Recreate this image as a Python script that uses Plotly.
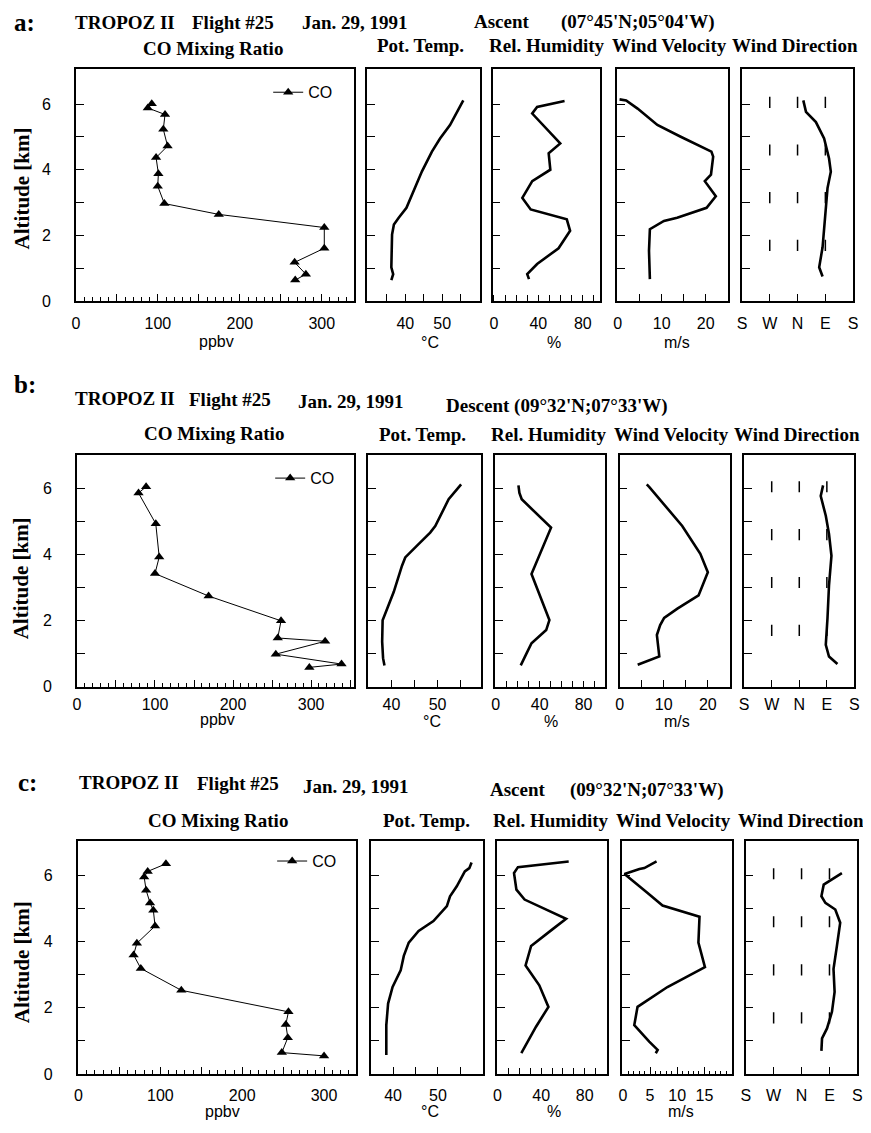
import plotly.graph_objects as go

# The page body has an 8 px margin, so the figure is drawn 8 px in from the window edge.
OFF = 8
W, H = 871, 1133
FW, FH = W - OFF, H - OFF
SERIF = "Liberation Serif"
SANS = "Liberation Sans"

# ---------------- data ----------------
# Row a: Ascent (07°45'N;05°04'W)
a_co_ppbv = [92.5, 87.7, 108.7, 106.6, 111.8, 97.8, 100.6, 99.8, 107.9, 174.3, 303.1, 303.1, 266.9, 280.6, 267.6]
a_co_alt = [6.01, 5.88, 5.68, 5.23, 4.72, 4.37, 3.88, 3.50, 2.97, 2.64, 2.24, 1.61, 1.18, 0.82, 0.64]
a_pt_c = [55.7, 55.2, 52.1, 49.4, 47.2, 44.5, 42.2, 40.3, 38.2, 36.9, 36.4, 36.2, 36.2, 36.7, 36.2]
a_pt_alt = [6.11, 6.01, 5.36, 4.95, 4.55, 3.95, 3.34, 2.84, 2.54, 2.33, 2.03, 1.53, 1.03, 0.82, 0.64]
a_rh = [63.6, 49.3, 38.9, 34.5, 59.7, 49.3, 50.8, 34.5, 25.6, 33.1, 65.6, 68.6, 58.2, 38.9, 30.0, 31.6]
a_rh_alt = [6.09, 5.98, 5.91, 5.71, 4.80, 4.50, 4.00, 3.65, 3.14, 2.79, 2.49, 2.14, 1.61, 1.13, 0.82, 0.67]
a_wv = [0.4, 1.9, 4.5, 9.0, 14.2, 21.3, 21.7, 21.2, 19.8, 22.3, 20.2, 13.5, 10.5, 7.3, 7.1, 7.3]
a_wv_alt = [6.14, 6.11, 5.86, 5.36, 5.01, 4.55, 4.40, 3.85, 3.65, 3.19, 2.84, 2.54, 2.44, 2.19, 1.53, 0.67]
a_wd_deg = [18.6, 27.3, 59.4, 86, 102, 107.7, 97, 91.6, 81, 70, 81]
a_wd_alt = [6.11, 5.76, 5.45, 4.95, 4.34, 3.94, 3.44, 2.74, 1.64, 1.03, 0.75]

# Row b: Descent (09°32'N;07°33'W)
b_co_ppbv = [88.6, 78.9, 101, 105.4, 100, 168.7, 261.5, 257.3, 318, 254.8, 339, 297.8]
b_co_alt = [6.05, 5.86, 4.93, 3.92, 3.42, 2.74, 1.99, 1.47, 1.37, 0.98, 0.68, 0.58]
b_pt_c = [55.1, 54.2, 52.4, 49.5, 48.4, 45.5, 43.0, 42.3, 40.5, 39.1, 38.1, 38.0, 38.2, 38.5]
b_pt_alt = [6.12, 5.97, 5.67, 4.86, 4.66, 4.26, 3.91, 3.66, 2.86, 2.36, 2.01, 1.36, 0.86, 0.64]
b_rh = [20.7, 21.6, 23.7, 50.4, 32.6, 48.9, 46.0, 32.6, 28.2, 22.8]
b_rh_alt = [6.09, 5.86, 5.67, 4.81, 3.41, 2.01, 1.71, 1.31, 1.01, 0.64]
b_wv = [6.15, 6.75, 14.2, 18.3, 20.0, 17.9, 13.1, 10.1, 9.2, 8.45, 9.0, 4.1]
b_wv_alt = [6.12, 6.04, 4.86, 4.02, 3.46, 2.76, 2.36, 2.08, 1.86, 1.56, 0.91, 0.66]
b_wd_deg = [77.7, 70, 86.5, 97, 105, 97, 92, 86.5, 97, 124.5]
b_wd_alt = [6.09, 5.77, 5.17, 4.62, 3.96, 3.06, 2.06, 1.26, 0.91, 0.68]

# Row c: Ascent (09°32'N;07°33'W)
c_co_ppbv = [106.8, 84.5, 80.2, 82.6, 87.4, 91.4, 93.5, 71.3, 67.3, 76.1, 125.6, 256.5, 253.3, 255.7, 248.4, 300.0]
c_co_alt = [6.35, 6.12, 5.95, 5.55, 5.17, 4.95, 4.47, 3.95, 3.60, 3.19, 2.53, 1.88, 1.50, 1.10, 0.65, 0.55]
c_pt_c = [57.5, 57.0, 56.0, 54.2, 52.7, 52.0, 49.0, 45.7, 43.5, 42.4, 41.7, 39.9, 38.9, 38.5, 38.5]
c_pt_alt = [6.39, 6.22, 6.12, 5.67, 5.37, 5.07, 4.62, 4.32, 3.97, 3.57, 3.13, 2.63, 2.13, 1.48, 0.58]
c_rh = [65.3, 56.3, 18.7, 15.1, 17.3, 24.8, 62.9, 50.3, 30.8, 25.7, 38.3, 46.7, 35.3, 21.8]
c_rh_alt = [6.42, 6.39, 6.25, 6.07, 5.57, 5.27, 4.69, 4.37, 3.87, 3.28, 2.68, 2.03, 1.43, 0.63]
c_wv = [6.2, 4.85, 3.95, 3.05, 0.3, 4.55, 7.3, 14.1, 13.9, 15.1, 8.2, 2.7, 2.1, 4.85, 6.4, 6.05]
c_wv_alt = [6.42, 6.29, 6.22, 6.19, 6.04, 5.47, 5.09, 4.75, 3.97, 3.23, 2.63, 2.03, 1.48, 0.98, 0.73, 0.63]
c_wd_deg = [130, 71.4, 64, 76.8, 108.7, 124.6, 114, 103, 106.5, 98, 82, 66, 64]
c_wd_alt = [6.07, 5.72, 5.37, 5.17, 4.97, 4.57, 3.87, 3.17, 2.48, 1.88, 1.38, 1.08, 0.70]

# reference dashes in the wind-direction panels (W, N, E)
wd_mark_dirs = [270, 0, 90]
wd_mark_alts = [6.05, 4.6, 3.15, 1.7]

# tick labels
co_ticks = [0, 50, 100, 150, 200, 250, 300, 350]
co_ticktext = ["0", "", "100", "", "200", "", "300", ""]
pt_ticks = [35, 40, 45, 50, 55]
pt_ticktext = ["", "40", "", "50", ""]
rh_ticks = [0, 10, 20, 30, 40, 50, 60, 70, 80, 90]
rh_ticktext = ["0", "", "", "", "40", "", "", "", "80", ""]
wv_ticks_ab = [0, 5, 10, 15, 20]
wv_ticktext_ab = ["0", "", "10", "", "20"]
wv_ticks_c = [0, 5, 10, 15]
wv_ticktext_c = ["0", "5", "10", "15"]
wd_ticks = [0, 90, 180, 270, 360]
wd_ticktext = ["S", "W", "N", "E", "S"]
alt_ticks = [0, 1, 2, 3, 4, 5, 6]
alt_ticktext = ["0", "", "2", "", "4", "", "6"]

panel_titles = ["CO Mixing Ratio", "Pot. Temp.", "Rel. Humidity", "Wind Velocity", "Wind Direction"]
units = ["ppbv", "°C", "%", "m/s"]


def compass_axis(d):
    # axis runs S - W - N - E - S
    return (d + 180) % 360


rows = [
    dict(tag="a:", data=[(a_co_ppbv, a_co_alt), (a_pt_c, a_pt_alt), (a_rh, a_rh_alt),
                        (a_wv, a_wv_alt), (a_wd_deg, a_wd_alt)],
         ytop=69, ybot=303.5, yr=7.08, xstand=7,
         xd=[(71.7, 352.7), (366.5, 480), (493.3, 602), (619, 731.5), (745.5, 858)],
         xr=[(0, 339), (29.7, 60.1), (-1.1, 95.6), (-0.2, 25.1), (0, 360)],
         wv=(wv_ticks_ab, wv_ticktext_ab, None),
         tagpos=(20, 23, 25),
         titles=[("TROPOZ II", 69, 23), ("Flight #25", 187, 23), ("Jan. 29, 1991", 298, 22.5),
                 ("Ascent", 472, 22), ("(07°45'N;05°04'W)", 560, 22)],
         ptitles=[(210, 49), (420, 46), (548, 46), (672, 46), (799, 46)],
         units=[(214, 344), (430, 345), (555, 345), (680, 345)],
         alt=(17, 190), legend=(336, 93)),
    dict(tag="b:", data=[(b_co_ppbv, b_co_alt), (b_pt_c, b_pt_alt), (b_rh, b_rh_alt),
                        (b_wv, b_wv_alt), (b_wd_deg, b_wd_alt)],
         ytop=458.3, ybot=692, yr=7.02, xstand=3,
         xd=[(72.7, 353), (367, 481), (495.7, 607), (621.7, 733.3), (747.7, 859.3)],
         xr=[(0, 355), (34.9, 59.3), (-0.6, 99.6), (0, 25), (0, 360)],
         wv=(wv_ticks_ab, wv_ticktext_ab, None),
         tagpos=(20, 388, 25),
         titles=[("TROPOZ II", 69, 402), ("Flight #25", 184, 403), ("Jan. 29, 1991", 294, 405),
                 ("Descent (09°32'N;07°33'W)", 444, 409)],
         ptitles=[(211, 437), (422, 438), (550, 438), (674, 438), (801, 438)],
         units=[(215, 725), (432, 727), (552, 727), (680, 727)],
         alt=(17, 583), legend=(338, 482)),
    dict(tag="c:", data=[(c_co_ppbv, c_co_alt), (c_pt_c, c_pt_alt), (c_rh, c_rh_alt),
                        (c_wv, c_wv_alt), (c_wd_deg, c_wd_alt)],
         ytop=848, ybot=1082.7, yr=7.03, xstand=6,
         xd=[(73.3, 355), (370.7, 483.3), (497.7, 609), (624.3, 735), (749.3, 862.3)],
         xr=[(-1.2, 339), (35.2, 60.0), (-0.5, 100.5), (-0.13, 20), (0, 360)],
         wv=(wv_ticks_c, wv_ticktext_c, 1),
         tagpos=(23, 789, 25),
         titles=[("TROPOZ II", 73, 789), ("Flight #25", 192, 790), ("Jan. 29, 1991", 299, 793),
                 ("Ascent", 489, 796), ("(09°32'N;07°33'W)", 570, 796)],
         ptitles=[(215, 827), (426, 827), (552, 827), (676, 827), (805, 827)],
         units=[(220, 1120), (430, 1120), (555, 1120), (684, 1120)],
         alt=(17, 970), legend=(340, 868)),
]

fig = go.Figure()
layout = {}
annotations = []


def px_x(v):
    return (v - OFF) / FW


def px_y(v):
    return 1 - (v - OFF) / FH


tickfont = dict(family=SANS, size=16, color="black")
axis_common = dict(showline=True, linecolor="black", linewidth=1.5, mirror=True,
                   showgrid=False, zeroline=False, ticks="inside", tickcolor="black",
                   tickwidth=1.3, tickfont=tickfont)

for r, row in enumerate(rows):
    legname = "legend" if r == 0 else f"legend{r + 1}"
    for p in range(5):
        idx = r * 5 + p + 1
        xn = "x" if idx == 1 else f"x{idx}"
        yn = "y" if idx == 1 else f"y{idx}"
        xs, ys = row["data"][p]
        if p == 0:
            fig.add_trace(go.Scatter(
                x=xs, y=ys, mode="lines+markers", name="CO",
                line=dict(color="black", width=1),
                marker=dict(symbol="triangle-up", size=9, color="black"),
                xaxis=xn, yaxis=yn, showlegend=True, legend=legname))
        elif p == 4:
            fig.add_trace(go.Scatter(
                x=[compass_axis(d) for d in xs], y=ys, mode="lines",
                line=dict(color="black", width=2.6), xaxis=xn, yaxis=yn, showlegend=False))
            mx, my = [], []
            for a in wd_mark_alts:
                for d in wd_mark_dirs:
                    mx.append(compass_axis(d))
                    my.append(a)
            fig.add_trace(go.Scatter(
                x=mx, y=my, mode="markers",
                marker=dict(symbol="line-ns", size=8, line=dict(color="black", width=1.5)),
                xaxis=xn, yaxis=yn, showlegend=False, hoverinfo="skip"))
        else:
            fig.add_trace(go.Scatter(
                x=xs, y=ys, mode="lines",
                line=dict(color="black", width=2.6), xaxis=xn, yaxis=yn, showlegend=False))

        l, rr = row["xd"][p]
        xax = dict(axis_common, domain=[px_x(l), px_x(rr)], range=list(row["xr"][p]),
                   anchor=yn, ticklen=7, tickmode="array", ticklabelstandoff=row["xstand"])
        if p == 0:
            xax.update(tickvals=co_ticks, ticktext=co_ticktext,
                       minor=dict(tickmode="linear", tick0=0, dtick=10, ticks="inside",
                                  ticklen=4, tickcolor="black", tickwidth=1, showgrid=False))
        elif p == 1:
            xax.update(tickvals=pt_ticks, ticktext=pt_ticktext)
        elif p == 2:
            xax.update(tickvals=rh_ticks, ticktext=rh_ticktext, ticklen=6)
        elif p == 3:
            tv, tt, mdt = row["wv"]
            xax.update(tickvals=tv, ticktext=tt)
            if mdt:
                xax.update(minor=dict(tickmode="linear", tick0=0, dtick=mdt, ticks="inside",
                                      ticklen=3, tickcolor="black", tickwidth=1, showgrid=False))
        else:
            xax.update(tickvals=wd_ticks, ticktext=wd_ticktext)
        layout["xaxis" if idx == 1 else f"xaxis{idx}"] = xax

        yax = dict(axis_common, domain=[px_y(row["ybot"]), px_y(row["ytop"])],
                   range=[0, row["yr"]], anchor=xn, ticklen=8, tickmode="array")
        if p == 0:
            yax.update(tickvals=alt_ticks, ticktext=alt_ticktext, ticklabelstandoff=20)
        else:
            yax.update(tickvals=alt_ticks[1:], showticklabels=False)
        layout["yaxis" if idx == 1 else f"yaxis{idx}"] = yax

    # legend for the CO panel
    lx, ly = row["legend"]
    layout[legname] = dict(x=px_x(lx), y=px_y(ly), xanchor="right", yanchor="middle",
                           bgcolor="rgba(0,0,0,0)", font=dict(family=SANS, size=16, color="black"),
                           itemwidth=30)

    # header texts
    tx, ty, ts = row["tagpos"]
    annotations.append(dict(text=row["tag"], x=px_x(tx), y=px_y(ty), xref="paper", yref="paper",
                            showarrow=False, xanchor="center", yanchor="middle",
                            font=dict(family=SERIF, size=ts, color="black", weight="bold")))
    for txt, x0, y0 in row["titles"]:
        annotations.append(dict(text=txt, x=px_x(x0), y=px_y(y0), xref="paper", yref="paper",
                                showarrow=False, xanchor="left", yanchor="middle",
                                font=dict(family=SERIF, size=19, color="black", weight="bold")))
    for (cx, cy), txt in zip(row["ptitles"], panel_titles):
        annotations.append(dict(text=txt, x=px_x(cx), y=px_y(cy), xref="paper", yref="paper",
                                showarrow=False, xanchor="center", yanchor="middle",
                                font=dict(family=SERIF, size=19, color="black", weight="bold")))
    for (cx, cy), txt in zip(row["units"], units):
        annotations.append(dict(text=txt, x=px_x(cx), y=px_y(cy), xref="paper", yref="paper",
                                showarrow=False, xanchor="center", yanchor="middle",
                                font=dict(family=SANS, size=16, color="black")))
    ax_, ay_ = row["alt"]
    annotations.append(dict(text="Altitude [km]", x=px_x(ax_), y=px_y(ay_), xref="paper",
                            yref="paper", showarrow=False, textangle=-90,
                            xanchor="center", yanchor="middle",
                            font=dict(family=SERIF, size=21, color="black", weight="bold")))

layout.update(dict(width=FW, height=FH, margin=dict(l=0, r=0, t=0, b=0),
                   paper_bgcolor="white", plot_bgcolor="white",
                   annotations=annotations, showlegend=True))
fig.update_layout(**layout)
fig.write_html("out.html")
